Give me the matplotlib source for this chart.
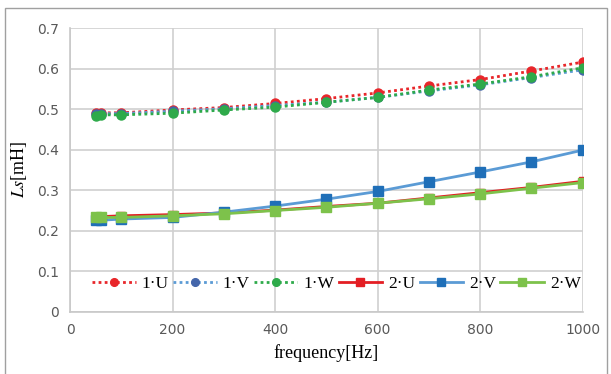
import matplotlib
matplotlib.use("Agg")
import matplotlib.pyplot as plt
from matplotlib.patches import Rectangle

freq = [50, 60, 100, 200, 300, 400, 500, 600, 700, 800, 900, 1000]
ls_1u = [0.491, 0.491, 0.491, 0.498, 0.504, 0.514, 0.526, 0.540, 0.557, 0.573, 0.594, 0.616]
ls_1v = [0.489, 0.489, 0.489, 0.495, 0.501, 0.509, 0.517, 0.529, 0.545, 0.560, 0.578, 0.597]
ls_1w = [0.484, 0.486, 0.486, 0.490, 0.498, 0.505, 0.517, 0.529, 0.547, 0.562, 0.580, 0.602]
ls_2u = [0.234, 0.235, 0.237, 0.240, 0.244, 0.251, 0.260, 0.268, 0.281, 0.294, 0.307, 0.322]
ls_2v = [0.226, 0.226, 0.229, 0.233, 0.246, 0.261, 0.278, 0.297, 0.321, 0.345, 0.370, 0.399]
ls_2w = [0.233, 0.233, 0.233, 0.237, 0.242, 0.250, 0.258, 0.268, 0.279, 0.291, 0.305, 0.319]
labels = ["1·U", "1·V", "1·W", "2·U", "2·V", "2·W"]
xticks = [0, 200, 400, 600, 800, 1000]
yticks = [0, 0.1, 0.2, 0.3, 0.4, 0.5, 0.6, 0.7]

plt.rcParams['mathtext.fontset'] = 'stix'
fig = plt.figure(figsize=(6.11, 3.74), dpi=100)
ax = fig.add_axes([0.1146, 0.166, 0.839, 0.759])

series = [
    (ls_1u, dict(color="#E8262A", ls=(0, (1, 1.2)), marker="o", mfc="#E8262A", mec="#E8262A", ms=6.5, lw=2)),
    (ls_1v, dict(color="#5B9BD5", ls=(0, (1, 1.2)), marker="o", mfc="#4466AA", mec="#4466AA", ms=6.5, lw=2)),
    (ls_1w, dict(color="#2EAA4A", ls=(0, (1, 1.2)), marker="o", mfc="#2EAA4A", mec="#2EAA4A", ms=6.5, lw=2)),
    (ls_2u, dict(color="#E31E24", ls="-", marker="s", mfc="#E31E24", mec="#E31E24", ms=6, lw=2)),
    (ls_2v, dict(color="#5B9BD5", ls="-", marker="s", mfc="#1F6FB8", mec="#1F6FB8", ms=7.5, lw=2)),
    (ls_2w, dict(color="#7DC24B", ls="-", marker="s", mfc="#7DC24B", mec="#7DC24B", ms=6.5, lw=2)),
]
handles = []
for (vals, kw), lab in zip(series, labels):
    h, = ax.plot(freq, vals, label=lab, zorder=3, **kw)
    handles.append(h)

ax.set_xlim(0, 1000)
ax.set_ylim(0, 0.7)
ax.set_xticks(xticks)
ax.set_yticks(yticks)
ax.set_yticklabels(["0", "0.1", "0.2", "0.3", "0.4", "0.5", "0.6", "0.7"])
ax.grid(True, color="#D0D0D0", lw=1.2)
ax.set_axisbelow(True)
for s in ["top", "right"]:
    ax.spines[s].set_visible(False)
for s in ["left", "bottom"]:
    ax.spines[s].set_color("#C8C8C8")
    ax.spines[s].set_linewidth(1.2)
ax.tick_params(length=0, labelsize=10, labelcolor="#595959", pad=8)
for t in ax.get_xticklabels() + ax.get_yticklabels():
    t.set_fontfamily("DejaVu Sans")

ax.set_xlabel("frequency[Hz]", family="Liberation Serif", fontsize=13, labelpad=5)
ax.set_ylabel(r"$Ls$[mH]", family="Liberation Serif", fontsize=13, labelpad=6)

leg = ax.legend(handles=handles, ncol=6, loc="center right", bbox_to_anchor=(1.02, 0.1),
                frameon=False, prop={"family": "Liberation Serif", "size": 12.5},
                handlelength=2.5, columnspacing=0.25, handletextpad=0.35, borderpad=0.2,
                markerscale=0.85)

fig.patches.append(Rectangle((5 / 611, -0.1), 602 / 611, 1.1 - 8 / 374, transform=fig.transFigure,
                             fill=False, edgecolor="#A0A0A0", lw=1))

fig.savefig("out.png", dpi=100)
